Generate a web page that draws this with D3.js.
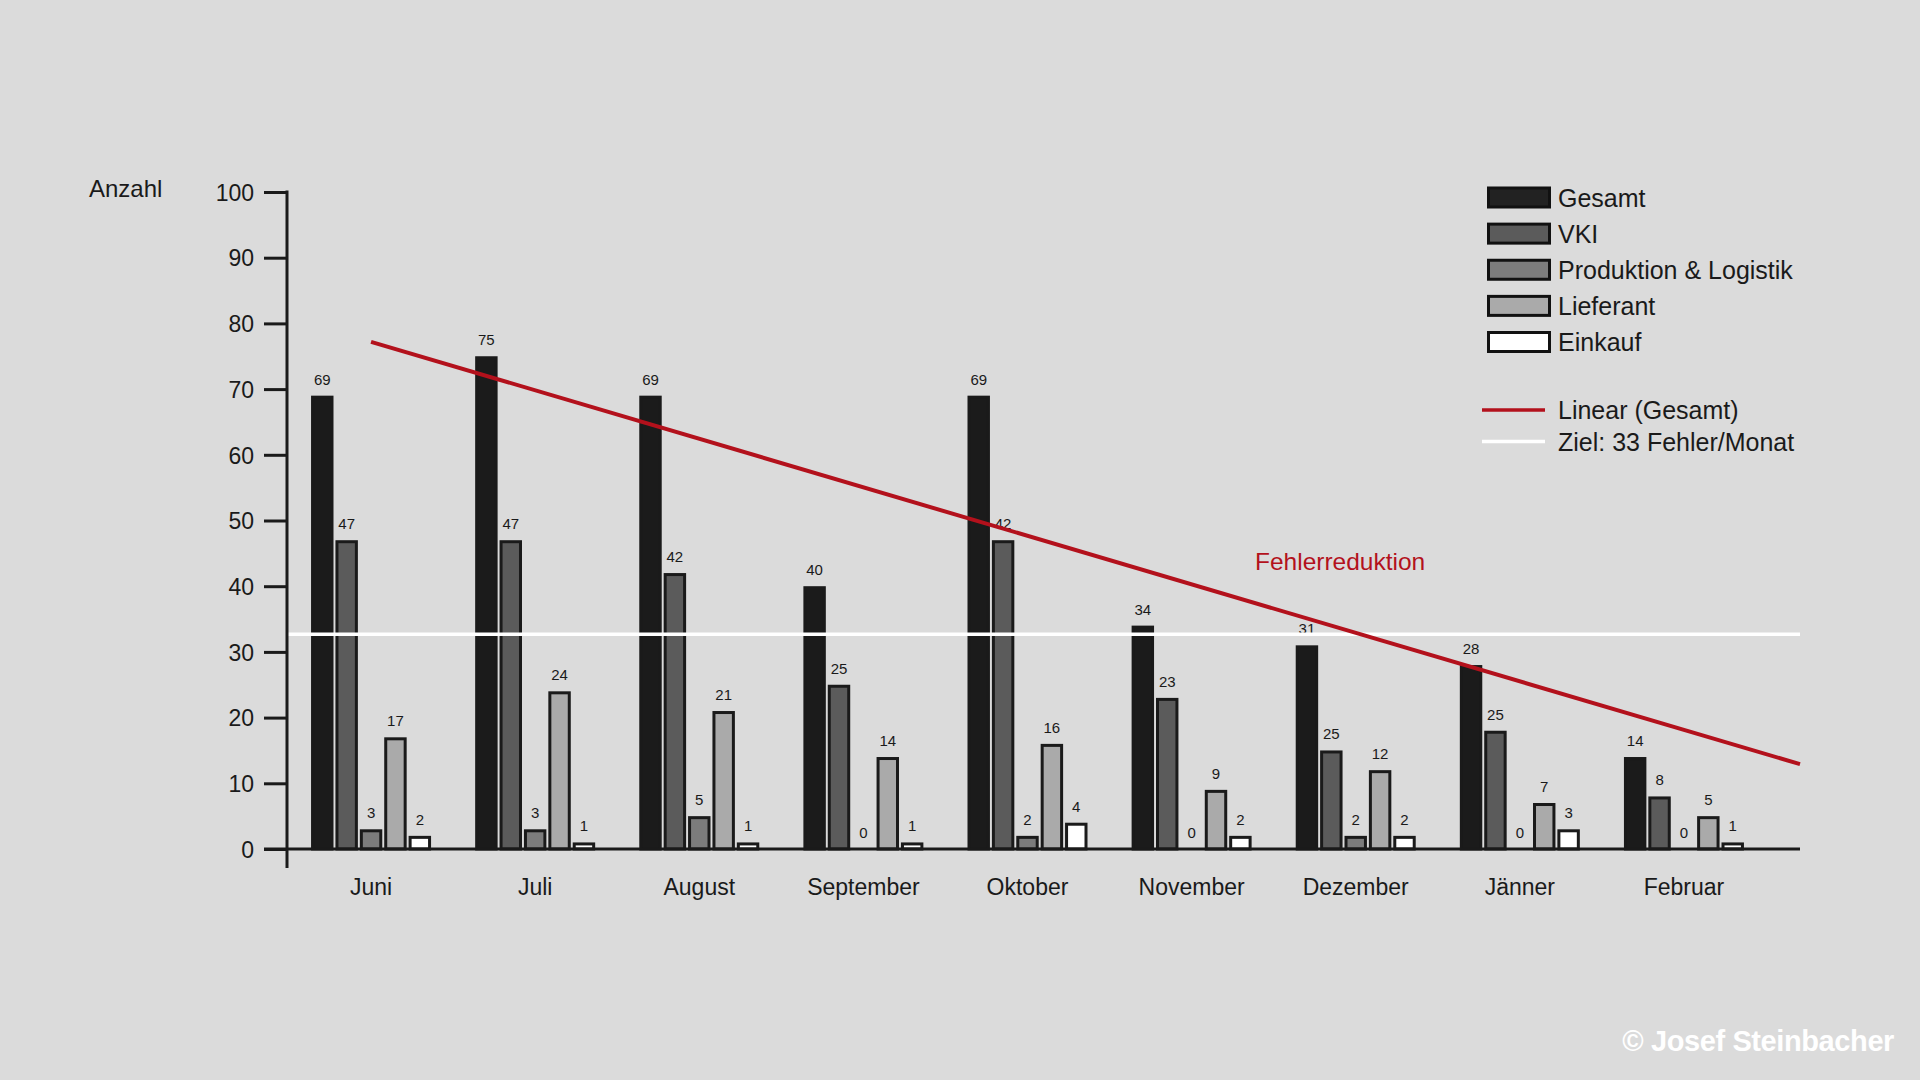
<!DOCTYPE html>
<html><head><meta charset="utf-8">
<script src="https://cdn.jsdelivr.net/npm/d3@7"></script>
<style>
html,body{margin:0;padding:0;background:#dbdbdb;}
svg{display:block;font-family:"Liberation Sans", Arial, Helvetica, sans-serif;}
</style></head><body>
<svg id="chart" width="1920" height="1080"></svg>
<script>
// ---- data ----
const months = ["Juni","Juli","August","September","Oktober","November","Dezember","Jänner","Februar"];
const seriesNames = ["Gesamt","VKI","Produktion & Logistik","Lieferant","Einkauf"];
const gesamt     = [69,75,69,40,69,34,31,28,14];
const vki        = [47,47,42,25,47,23,15,18,8];
const vkiPrinted = [47,47,42,25,42,23,25,25,8];   // labels as printed in the source
const produktion = [3,3,5,0,2,0,2,0,0];
const lieferant  = [17,24,21,14,16,9,12,7,5];
const einkauf    = [2,1,1,1,4,2,2,3,1];
const yTicks = [0,10,20,30,40,50,60,70,80,90,100];
const target = 33;
const lineLegend = ["Linear (Gesamt)","Ziel: 33 Fehler/Monat"];

const seriesValues = [gesamt, vki, produktion, lieferant, einkauf];
const seriesLabels = [gesamt, vkiPrinted, produktion, lieferant, einkauf];
const fills = ["#1b1b1b","#5b5b5b","#7c7c7c","#aaaaaa","#ffffff"];
const ink = "#1a1a1a";
const red = "#b3111c";

const svg = d3.select("#chart");
svg.append("rect").attr("width",1920).attr("height",1080).attr("fill","#dbdbdb");

// ---- scales ----
const x0 = d3.scaleBand().domain(months).range([289,1766]).padding(0);
const groupW = 120;
const x1 = d3.scaleBand().domain(seriesNames).range([0,groupW]).paddingInner(0.08).paddingOuter(0);
const y = d3.scaleLinear().domain([0,100]).range([849,192]);
const axisX = 287, axisRight = 1800;

const groupX = m => x0(m) + (x0.bandwidth() - groupW) / 2;

// ---- bars ----
const sw = 3;
const gBars = svg.append("g");
seriesNames.forEach((s, si) => {
  const vals = seriesValues[si];
  const data = months.map((m, j) => ({m, v: vals[j], lab: seriesLabels[si][j]}));
  gBars.selectAll(null).data(data.filter(d => d.v > 0)).enter().append("rect")
    .attr("x", d => groupX(d.m) + x1(s) + sw/2)
    .attr("width", x1.bandwidth() - sw)
    .attr("y", d => y(d.v) + sw/2)
    .attr("height", d => y(0) - y(d.v) - sw/2)
    .attr("fill", fills[si])
    .attr("stroke", ink)
    .attr("stroke-width", sw);
  gBars.selectAll(null).data(data).enter().append("text")
    .attr("x", d => groupX(d.m) + x1(s) + x1.bandwidth()/2)
    .attr("y", d => y(d.v) - 11)
    .attr("text-anchor","middle")
    .attr("font-size", 15)
    .attr("fill", ink)
    .text(d => d.lab);
});

// ---- target line ----
svg.append("line")
  .attr("x1", axisX).attr("x2", axisRight)
  .attr("y1", y(target) + 2).attr("y2", y(target) + 2)
  .attr("stroke","#ffffff").attr("stroke-width",3.5);

// ---- linear trend (least squares on Gesamt) ----
const idx = gesamt.map((_, i) => i);
const mx = d3.mean(idx), my = d3.mean(gesamt);
const slope = d3.sum(idx, i => (i - mx) * (gesamt[i] - my)) / d3.sum(idx, i => (i - mx) ** 2);
const icept = my - slope * mx;
const xi = d3.scaleLinear().domain([0, months.length - 1])
  .range([x0(months[0]) + x0.bandwidth()/2, x0(months[months.length-1]) + x0.bandwidth()/2]);
const tEnd = xi.invert(axisRight);
svg.append("path")
  .datum([0, tEnd])
  .attr("d", d3.line().x(t => xi(t)).y(t => y(icept + slope * t)))
  .attr("stroke", red).attr("stroke-width", 4).attr("fill","none");

svg.append("text")
  .attr("x", 1255).attr("y", 570)
  .attr("font-size", 24.5).attr("fill", red)
  .text("Fehlerreduktion");

// ---- axes ----
const yAxis = d3.axisLeft(y).tickValues(yTicks).tickSize(23).tickPadding(10).tickSizeOuter(0);
const gy = svg.append("g").attr("transform", `translate(${axisX},0)`).call(yAxis);
gy.select(".domain").remove();
gy.selectAll(".tick line").attr("stroke", ink).attr("stroke-width", 3);
gy.selectAll(".tick text").attr("font-size", 23).attr("fill", ink)
  .attr("font-family", "Liberation Sans, Arial, sans-serif").attr("dy","0.36em");

svg.append("line").attr("x1", axisX).attr("x2", axisX)
  .attr("y1", y(100) - 1.5).attr("y2", 868)
  .attr("stroke", ink).attr("stroke-width", 3);
svg.append("line").attr("x1", axisX - 23).attr("x2", axisRight)
  .attr("y1", y(0)).attr("y2", y(0))
  .attr("stroke", ink).attr("stroke-width", 3);

const xAxis = d3.axisBottom(x0).tickSize(0).tickPadding(30);
const gx = svg.append("g").attr("transform", `translate(0,${y(0)})`).call(xAxis);
gx.select(".domain").remove();
gx.selectAll(".tick text").attr("font-size", 23).attr("fill", ink)
  .attr("font-family", "Liberation Sans, Arial, sans-serif");

svg.append("text").attr("x", 89).attr("y", 197)
  .attr("font-size", 24).attr("fill", ink).text("Anzahl");

// ---- legend ----
const lg = svg.append("g");
const legRows = d3.scaleLinear().domain([0, 4]).range([197.5, 342]);
seriesNames.forEach((s, i) => {
  const cy = legRows(i);
  lg.append("rect")
    .attr("x", 1487 + sw/2).attr("y", cy - 11 + sw/2)
    .attr("width", 64 - sw).attr("height", 22 - sw)
    .attr("fill", i === 0 ? "#222222" : fills[i])
    .attr("stroke", "#111111").attr("stroke-width", sw);
  lg.append("text").attr("x", 1558).attr("y", cy + 9)
    .attr("font-size", 25).attr("fill", ink).text(s);
});
const lineCols = [red, "#ffffff"];
const lineRows = [410, 441.5];
lineLegend.forEach((t, i) => {
  lg.append("line").attr("x1", 1482).attr("x2", 1545)
    .attr("y1", lineRows[i]).attr("y2", lineRows[i])
    .attr("stroke", lineCols[i]).attr("stroke-width", 3.5);
  lg.append("text").attr("x", 1558).attr("y", lineRows[i] + 9)
    .attr("font-size", 25).attr("fill", ink).text(t);
});

// ---- credit ----
svg.append("text").attr("x", 1894).attr("y", 1051)
  .attr("text-anchor","end").attr("font-size", 29).attr("font-weight","bold")
  .attr("letter-spacing", -0.4).attr("fill","#ffffff")
  .text("© Josef Steinbacher");
</script>
</body></html>
